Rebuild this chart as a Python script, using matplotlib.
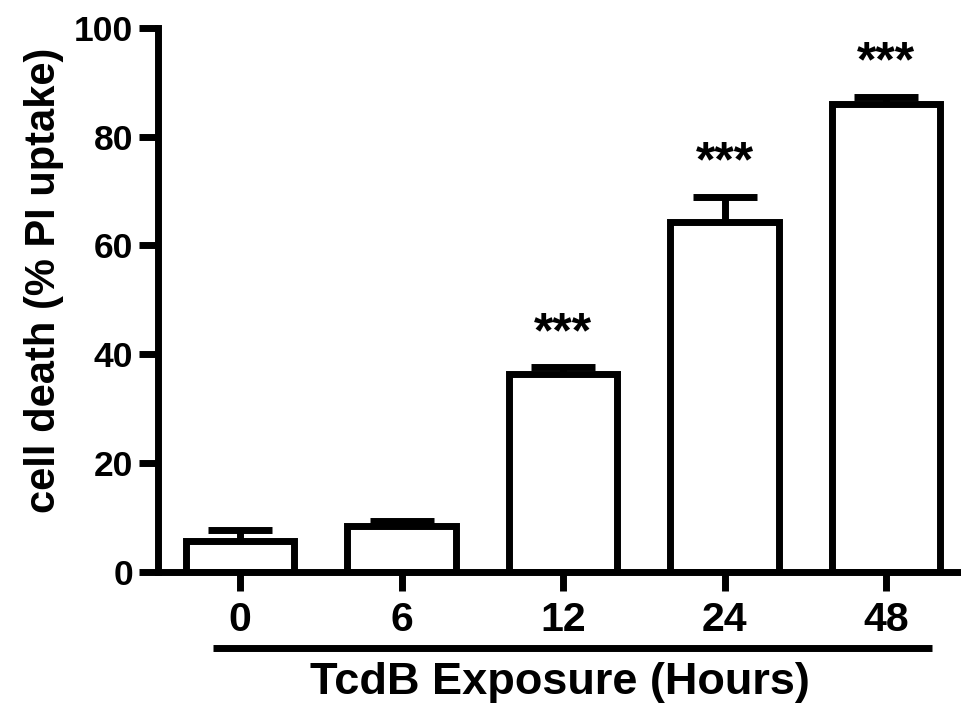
import matplotlib
matplotlib.use("Agg")
import matplotlib.pyplot as plt
import numpy as np

# Data
categories = ["0", "6", "12", "24", "48"]
means = [5.6, 8.4, 36.4, 64.4, 86.1]
errors = [2.1, 0.9, 1.2, 4.5, 1.2]
significance = ["", "", "***", "***", "***"]
y_ticks = [0, 20, 40, 60, 80, 100]
x_label = "TcdB Exposure (Hours)"
y_label = "cell death (% PI uptake)"

plt.rcParams['font.family'] = ['Liberation Sans', 'DejaVu Sans']
plt.rcParams['font.weight'] = 'bold'

fig = plt.figure(figsize=(9.61, 7.03), dpi=100)
ax = fig.add_axes([0.1644, 0.187, 0.8356, 0.773])

x = np.arange(len(categories))
lw = 5
ax.errorbar(x, means, yerr=errors, fmt='none', ecolor='black', elinewidth=lw,
            capsize=22.7, capthick=lw, zorder=1)
ax.bar(x, means, width=0.67, facecolor='white', edgecolor='black',
       linewidth=lw, zorder=2)

for xi, m, e, s in zip(x, means, errors, significance):
    if s:
        ax.annotate(s, xy=(xi, m + e), xytext=(0, 24), textcoords='offset points',
                    ha='center', va='center', fontsize=36, fontweight='bold',
                    annotation_clip=False)

ax.set_xlim(-0.508, 4.464)
ax.set_ylim(0, 100)
ax.set_yticks(y_ticks)
ax.set_yticklabels([str(t) for t in y_ticks])
ax.set_xticks(x)
ax.set_xticklabels(categories)

for sp in ['top', 'right']:
    ax.spines[sp].set_visible(False)
for sp in ['left', 'bottom']:
    ax.spines[sp].set_linewidth(lw)
    ax.spines[sp].set_capstyle('projecting')

ax.tick_params(axis='y', length=14, width=lw, labelsize=25.5, pad=4)
ax.tick_params(axis='x', length=14, width=lw, labelsize=29.5, pad=7)
for lab in ax.get_xticklabels() + ax.get_yticklabels():
    lab.set_fontweight('bold')

ax.set_ylabel(y_label, fontsize=30, fontweight='bold')
ax.yaxis.set_label_coords(-0.117, 0.536)

# underline below the x tick labels
ax.plot([0.0685, 0.964], [-0.1408, -0.1408], transform=ax.transAxes,
        color='black', linewidth=lw, clip_on=False, solid_capstyle='butt')
ax.text(0.5, -0.205, x_label, transform=ax.transAxes, ha='center', va='center',
        fontsize=32.5, fontweight='bold')

fig.savefig("out.png", dpi=100)
